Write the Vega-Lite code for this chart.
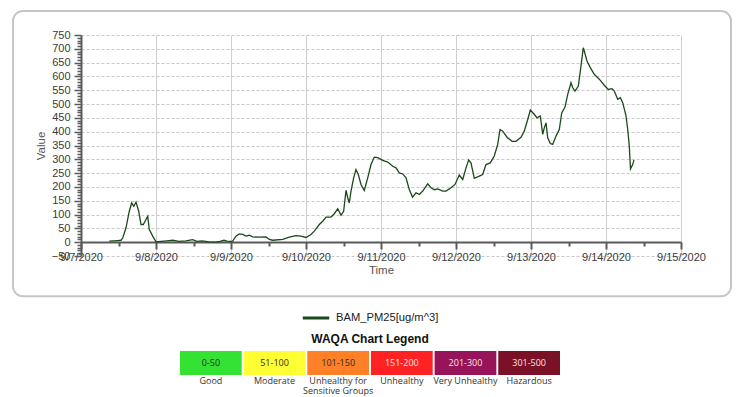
{
  "$schema": "https://vega.github.io/schema/vega-lite/v6.json",
  "background": "white",
  "padding": {"left": 11, "top": 9, "right": 5, "bottom": 2},
  "spacing": 9,
  "resolve": {"scale": {"color": "independent"}, "legend": {"color": "independent"}},
  "config": {
    "font": "Liberation Sans",
    "view": {"stroke": null},
    "axis": {"labelFont": "Liberation Sans", "titleFont": "Liberation Sans"}
  },
  "vconcat": [
    {
      "width": 600,
      "height": 221,
      "layer": [
        {
          "data": {"values": [{}]},
          "mark": {"type": "rect", "filled": false, "stroke": "#c6c6c6", "strokeWidth": 2, "cornerRadius": 10, "clip": false},
          "encoding": {
            "x": {"datum": {"year": 2020, "month": 9, "date": 6, "hours": 2, "minutes": 14}, "type": "temporal"},
            "x2": {"datum": {"year": 2020, "month": 9, "date": 15, "hours": 16}},
            "y": {"datum": 837, "type": "quantitative"},
            "y2": {"datum": -196}
          }
        },
        {
          "data": {"values": [
            {"t": "2020-09-07T09:04", "v": 4}, {"t": "2020-09-07T11:45", "v": 6}, {"t": "2020-09-07T12:48", "v": 7}, {"t": "2020-09-07T13:21", "v": 15},
            {"t": "2020-09-07T14:24", "v": 52}, {"t": "2020-09-07T15:27", "v": 112}, {"t": "2020-09-07T16:13", "v": 142}, {"t": "2020-09-07T16:52", "v": 130},
            {"t": "2020-09-07T17:36", "v": 145}, {"t": "2020-09-07T18:28", "v": 112}, {"t": "2020-09-07T19:12", "v": 64}, {"t": "2020-09-07T19:56", "v": 64},
            {"t": "2020-09-07T20:48", "v": 82}, {"t": "2020-09-07T21:21", "v": 94}, {"t": "2020-09-07T21:51", "v": 46}, {"t": "2020-09-07T22:57", "v": 22},
            {"t": "2020-09-08T00:00", "v": 1}, {"t": "2020-09-08T01:36", "v": 3}, {"t": "2020-09-08T03:31", "v": 5}, {"t": "2020-09-08T05:21", "v": 7},
            {"t": "2020-09-08T07:22", "v": 3}, {"t": "2020-09-08T09:36", "v": 5}, {"t": "2020-09-08T11:44", "v": 9}, {"t": "2020-09-08T13:07", "v": 3},
            {"t": "2020-09-08T14:43", "v": 5}, {"t": "2020-09-08T16:58", "v": 1}, {"t": "2020-09-08T19:12", "v": 0}, {"t": "2020-09-08T20:29", "v": 3},
            {"t": "2020-09-08T21:46", "v": 7}, {"t": "2020-09-08T22:43", "v": 4},
            {"t": "2020-09-09T00:00", "v": 3}, {"t": "2020-09-09T00:32", "v": 4}, {"t": "2020-09-09T01:36", "v": 22}, {"t": "2020-09-09T02:39", "v": 30},
            {"t": "2020-09-09T03:45", "v": 28}, {"t": "2020-09-09T04:48", "v": 22}, {"t": "2020-09-09T05:51", "v": 25}, {"t": "2020-09-09T06:57", "v": 19},
            {"t": "2020-09-09T09:03", "v": 18}, {"t": "2020-09-09T11:12", "v": 19}, {"t": "2020-09-09T12:15", "v": 10}, {"t": "2020-09-09T13:21", "v": 7},
            {"t": "2020-09-09T16:33", "v": 10}, {"t": "2020-09-09T18:39", "v": 18}, {"t": "2020-09-09T20:48", "v": 24}, {"t": "2020-09-09T22:24", "v": 22},
            {"t": "2020-09-10T00:00", "v": 17}, {"t": "2020-09-10T01:36", "v": 28}, {"t": "2020-09-10T02:39", "v": 40}, {"t": "2020-09-10T04:15", "v": 64},
            {"t": "2020-09-10T05:21", "v": 76}, {"t": "2020-09-10T06:24", "v": 91}, {"t": "2020-09-10T08:00", "v": 91}, {"t": "2020-09-10T09:03", "v": 103},
            {"t": "2020-09-10T10:09", "v": 121}, {"t": "2020-09-10T11:12", "v": 98}, {"t": "2020-09-10T12:03", "v": 112}, {"t": "2020-09-10T12:48", "v": 188},
            {"t": "2020-09-10T13:21", "v": 161}, {"t": "2020-09-10T13:51", "v": 142}, {"t": "2020-09-10T14:24", "v": 185}, {"t": "2020-09-10T15:15", "v": 233},
            {"t": "2020-09-10T16:00", "v": 263}, {"t": "2020-09-10T16:44", "v": 245}, {"t": "2020-09-10T17:36", "v": 209}, {"t": "2020-09-10T18:39", "v": 187},
            {"t": "2020-09-10T19:45", "v": 233}, {"t": "2020-09-10T20:48", "v": 281}, {"t": "2020-09-10T21:51", "v": 308}, {"t": "2020-09-10T22:57", "v": 306},
            {"t": "2020-09-11T00:32", "v": 296}, {"t": "2020-09-11T02:09", "v": 290}, {"t": "2020-09-11T03:45", "v": 275}, {"t": "2020-09-11T04:48", "v": 269},
            {"t": "2020-09-11T05:51", "v": 251}, {"t": "2020-09-11T06:57", "v": 247}, {"t": "2020-09-11T08:00", "v": 233}, {"t": "2020-09-11T09:03", "v": 191},
            {"t": "2020-09-11T10:05", "v": 163}, {"t": "2020-09-11T11:12", "v": 179}, {"t": "2020-09-11T12:15", "v": 173}, {"t": "2020-09-11T13:21", "v": 185},
            {"t": "2020-09-11T14:57", "v": 211}, {"t": "2020-09-11T16:00", "v": 197}, {"t": "2020-09-11T17:03", "v": 190}, {"t": "2020-09-11T18:09", "v": 193},
            {"t": "2020-09-11T19:45", "v": 185}, {"t": "2020-09-11T20:48", "v": 185}, {"t": "2020-09-11T22:24", "v": 197}, {"t": "2020-09-11T23:41", "v": 209},
            {"t": "2020-09-12T01:03", "v": 243}, {"t": "2020-09-12T02:09", "v": 227}, {"t": "2020-09-12T03:12", "v": 269}, {"t": "2020-09-12T04:03", "v": 297},
            {"t": "2020-09-12T04:48", "v": 287}, {"t": "2020-09-12T05:51", "v": 231}, {"t": "2020-09-12T07:27", "v": 239}, {"t": "2020-09-12T08:32", "v": 245},
            {"t": "2020-09-12T09:36", "v": 281}, {"t": "2020-09-12T10:58", "v": 287}, {"t": "2020-09-12T12:15", "v": 312}, {"t": "2020-09-12T13:21", "v": 354},
            {"t": "2020-09-12T14:05", "v": 408}, {"t": "2020-09-12T14:57", "v": 402}, {"t": "2020-09-12T16:24", "v": 379}, {"t": "2020-09-12T17:59", "v": 365},
            {"t": "2020-09-12T19:12", "v": 365}, {"t": "2020-09-12T20:48", "v": 380}, {"t": "2020-09-12T21:51", "v": 402}, {"t": "2020-09-12T22:57", "v": 444},
            {"t": "2020-09-12T23:47", "v": 478},
            {"t": "2020-09-13T01:03", "v": 463}, {"t": "2020-09-13T01:55", "v": 450}, {"t": "2020-09-13T02:59", "v": 457}, {"t": "2020-09-13T03:45", "v": 390},
            {"t": "2020-09-13T04:15", "v": 414}, {"t": "2020-09-13T04:48", "v": 432}, {"t": "2020-09-13T05:21", "v": 378}, {"t": "2020-09-13T06:11", "v": 357},
            {"t": "2020-09-13T06:57", "v": 354}, {"t": "2020-09-13T08:00", "v": 384}, {"t": "2020-09-13T09:03", "v": 408}, {"t": "2020-09-13T09:50", "v": 468},
            {"t": "2020-09-13T10:53", "v": 489}, {"t": "2020-09-13T11:45", "v": 535}, {"t": "2020-09-13T12:48", "v": 577}, {"t": "2020-09-13T13:21", "v": 559},
            {"t": "2020-09-13T14:05", "v": 547}, {"t": "2020-09-13T15:09", "v": 565}, {"t": "2020-09-13T16:00", "v": 638}, {"t": "2020-09-13T16:44", "v": 704},
            {"t": "2020-09-13T17:03", "v": 692}, {"t": "2020-09-13T17:55", "v": 656}, {"t": "2020-09-13T18:59", "v": 632}, {"t": "2020-09-13T20:15", "v": 608},
            {"t": "2020-09-13T21:51", "v": 590}, {"t": "2020-09-13T23:27", "v": 568},
            {"t": "2020-09-14T00:44", "v": 553}, {"t": "2020-09-14T01:55", "v": 556}, {"t": "2020-09-14T02:39", "v": 547}, {"t": "2020-09-14T03:45", "v": 517},
            {"t": "2020-09-14T04:35", "v": 523}, {"t": "2020-09-14T05:21", "v": 505}, {"t": "2020-09-14T06:24", "v": 457}, {"t": "2020-09-14T06:57", "v": 408},
            {"t": "2020-09-14T07:27", "v": 348}, {"t": "2020-09-14T07:50", "v": 265}, {"t": "2020-09-14T08:32", "v": 281}, {"t": "2020-09-14T08:58", "v": 298}
          ]},
          "mark": {"type": "line", "strokeWidth": 1.3, "interpolate": "linear"},
          "encoding": {
            "x": {
              "field": "t", "type": "temporal",
              "scale": {"domain": [{"year": 2020, "month": 9, "date": 7}, {"year": 2020, "month": 9, "date": 15}], "nice": false},
              "axis": {
                "title": "Time",
                "tickCount": 1000,
                "values": [
                  {"year": 2020, "month": 9, "date": 7, "hours": 0}, {"year": 2020, "month": 9, "date": 7, "hours": 12},
                  {"year": 2020, "month": 9, "date": 8, "hours": 0}, {"year": 2020, "month": 9, "date": 8, "hours": 12},
                  {"year": 2020, "month": 9, "date": 9, "hours": 0}, {"year": 2020, "month": 9, "date": 9, "hours": 12},
                  {"year": 2020, "month": 9, "date": 10, "hours": 0}, {"year": 2020, "month": 9, "date": 10, "hours": 12},
                  {"year": 2020, "month": 9, "date": 11, "hours": 0}, {"year": 2020, "month": 9, "date": 11, "hours": 12},
                  {"year": 2020, "month": 9, "date": 12, "hours": 0}, {"year": 2020, "month": 9, "date": 12, "hours": 12},
                  {"year": 2020, "month": 9, "date": 13, "hours": 0}, {"year": 2020, "month": 9, "date": 13, "hours": 12},
                  {"year": 2020, "month": 9, "date": 14, "hours": 0}, {"year": 2020, "month": 9, "date": 14, "hours": 12},
                  {"year": 2020, "month": 9, "date": 15, "hours": 0}
                ],
                "format": "%-m/%-d/%Y",
                "labelExpr": "hours(datum.value) == 0 ? datum.label : ''",
                "offset": -14,
                "domainColor": "#5a5a5a", "domainWidth": 2,
                "tickColor": "#5a5a5a", "tickWidth": 2,
                "tickSize": {"condition": {"test": "hours(datum.value) != 0", "value": 4}, "value": 7},
                "grid": true, "gridColor": "#cfcfcf", "gridWidth": 1,
                "gridOpacity": {"condition": {"test": "hours(datum.value) != 0", "value": 0}, "value": 1},
                "labelColor": "#3a3a3a", "labelFontSize": 11, "labelPadding": 2,
                "labelOverlap": false, "labelFlush": false, "labelBound": false,
                "titleColor": "#555555", "titleFontSize": 11.5, "titleFontWeight": "normal", "titlePadding": 2
              }
            },
            "y": {
              "field": "v", "type": "quantitative",
              "scale": {"domain": [-50, 750], "nice": false, "zero": false},
              "axis": {
                "title": "Value",
                "tickCount": 1000,
                "values": [-50,-40,-30,-20,-10,0,10,20,30,40,50,60,70,80,90,100,110,120,130,140,150,160,170,180,190,200,210,220,230,240,250,260,270,280,290,300,310,320,330,340,350,360,370,380,390,400,410,420,430,440,450,460,470,480,490,500,510,520,530,540,550,560,570,580,590,600,610,620,630,640,650,660,670,680,690,700,710,720,730,740,750],
                "labelExpr": "datum.value % 50 == 0 ? datum.label : ''",
                "domainColor": "#5a5a5a", "domainWidth": 2,
                "tickColor": "#5a5a5a", "tickWidth": 1.5,
                "tickSize": {"condition": {"test": "datum.value % 50 != 0", "value": 4}, "value": 7},
                "grid": true, "gridColor": "#c8c8c8", "gridDash": [3, 2], "gridWidth": 1,
                "gridOpacity": {"condition": {"test": "datum.value % 50 != 0", "value": 0}, "value": 1},
                "labelColor": "#3a3a3a", "labelFontSize": 11, "labelPadding": 4,
                "labelOverlap": false, "labelBound": false,
                "titleColor": "#555555", "titleFontSize": 11.5, "titleFontWeight": "normal", "titlePadding": 5
              }
            },
            "color": {
              "datum": "BAM_PM25[ug/m^3]",
              "scale": {"range": ["#1a4a1a"]},
              "legend": {
                "orient": "none", "legendX": 220, "legendY": 268, "title": null,
                "symbolType": "stroke", "symbolSize": 700, "symbolStrokeWidth": 3,
                "labelFont": "Liberation Sans", "labelFontSize": 11.2, "labelColor": "#222222", "labelOffset": 5
              }
            }
          }
        }
      ]
    },
    {
      "width": 600,
      "height": 24,
      "title": {"text": "WAQA Chart Legend", "font": "Liberation Sans", "fontSize": 12, "fontWeight": "bold", "color": "#111111", "offset": 5, "dx": -11, "anchor": "middle"},
      "data": {"values": [
        {"category": "Good", "range": "0-50"},
        {"category": "Moderate", "range": "51-100"},
        {"category": "Unhealthy for Sensitive Groups", "range": "101-150"},
        {"category": "Unhealthy", "range": "151-200"},
        {"category": "Very Unhealthy", "range": "201-300"},
        {"category": "Hazardous", "range": "301-500"}
      ]},
      "layer": [
        {
          "mark": {"type": "rect"},
          "encoding": {
            "x": {
              "field": "category", "type": "nominal", "sort": null,
              "scale": {"range": [99, 479], "paddingInner": 0.03, "paddingOuter": 0},
              "axis": {
                "title": null, "domain": false, "ticks": false, "grid": false, "labelAngle": 0,
                "labelFont": "Open Sans", "labelFontSize": 9, "labelColor": "#333333", "labelPadding": 1,
                "labelLimit": 0, "labelLineHeight": 10.5,
                "labelExpr": "datum.label == 'Unhealthy for Sensitive Groups' ? ['Unhealthy for', 'Sensitive Groups'] : datum.label"
              }
            },
            "color": {
              "field": "category", "type": "nominal", "sort": null,
              "scale": {
                "domain": ["Good", "Moderate", "Unhealthy for Sensitive Groups", "Unhealthy", "Very Unhealthy", "Hazardous"],
                "range": ["#33e233", "#ffff33", "#ff8026", "#ff2222", "#98145a", "#7b1127"]
              },
              "legend": null
            }
          }
        },
        {
          "mark": {"type": "text", "font": "Open Sans", "fontSize": 9},
          "encoding": {
            "x": {"field": "category", "type": "nominal", "sort": null},
            "text": {"field": "range"},
            "color": {"condition": {"test": "indexof(['Unhealthy', 'Very Unhealthy', 'Hazardous'], datum.category) >= 0", "value": "#fbe4e4"}, "value": "#2a2a2a"}
          }
        }
      ]
    }
  ]
}
